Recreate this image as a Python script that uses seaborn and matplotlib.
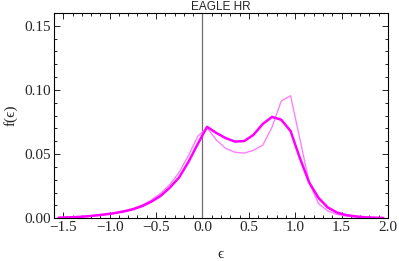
import numpy as np
import pandas as pd
import matplotlib
matplotlib.use("Agg")
import matplotlib.pyplot as plt
import seaborn as sns
from matplotlib.ticker import MultipleLocator

# ── Data ──────────────────────────────────────────────────────────────────────
eps = [-1.55, -1.45, -1.35, -1.25, -1.15, -1.05, -0.95, -0.85, -0.75, -0.65,
       -0.55, -0.45, -0.35, -0.25, -0.15, -0.05, 0.05, 0.15, 0.25, 0.35,
       0.45, 0.55, 0.65, 0.75, 0.85, 0.95, 1.05, 1.15, 1.25, 1.35,
       1.45, 1.55, 1.65, 1.75, 1.85, 1.95]
f_thick = [0.0005, 0.0007, 0.0010, 0.0015, 0.0022, 0.0030, 0.0040, 0.0053, 0.0070, 0.0095,
           0.0130, 0.0175, 0.0240, 0.0320, 0.0440, 0.0580, 0.0713, 0.0665, 0.0625, 0.0598,
           0.0602, 0.0650, 0.0735, 0.0790, 0.0768, 0.0680, 0.0470, 0.0280, 0.0160, 0.0085,
           0.0045, 0.0025, 0.0015, 0.0008, 0.0005, 0.0003]
f_thin = [0.0005, 0.0007, 0.0010, 0.0015, 0.0022, 0.0031, 0.0042, 0.0057, 0.0076, 0.0103,
          0.0142, 0.0195, 0.0265, 0.0360, 0.0490, 0.0640, 0.0705, 0.0610, 0.0545, 0.0515,
          0.0508, 0.0530, 0.0570, 0.0710, 0.0915, 0.0955, 0.0620, 0.0280, 0.0115, 0.0058,
          0.0030, 0.0018, 0.0010, 0.0006, 0.0004, 0.0002]

x_ticks = [-1.5, -1.0, -0.5, 0.0, 0.5, 1.0, 1.5, 2.0]
y_ticks = [0.00, 0.05, 0.10, 0.15]

df = pd.DataFrame({"eps": eps, "thick": f_thick, "thin": f_thin})

# ── Style ─────────────────────────────────────────────────────────────────────
sns.set_style("ticks")
plt.rcParams["font.family"] = ["Liberation Serif", "DejaVu Serif"]
plt.rcParams["xtick.direction"] = "in"
plt.rcParams["ytick.direction"] = "in"

fig = plt.figure(figsize=(3.99, 2.61), dpi=100)
ax = fig.add_axes([0.1353, 0.1636, 0.8371, 0.7866])

ax.axvline(0, color="#707070", lw=0.9, zorder=1)
sns.lineplot(data=df, x="eps", y="thin", ax=ax, color="#FF80FF", lw=1.0, zorder=2)
sns.lineplot(data=df, x="eps", y="thick", ax=ax, color="#FF00FF", lw=1.8, zorder=3)

ax.set_xlim(-1.6, 2.0)
ax.set_ylim(0, 0.16)
ax.set_xticks(x_ticks)
ax.set_xticklabels([f"{t:.1f}".replace("-", "\u2212") for t in x_ticks])
ax.set_yticks(y_ticks)
ax.set_yticklabels([f"{t:.2f}" for t in y_ticks])
ax.xaxis.set_minor_locator(MultipleLocator(0.1))
ax.yaxis.set_minor_locator(MultipleLocator(0.01))
ax.tick_params(which="both", top=True, right=True, labeltop=False, labelright=False,
               labelsize=11, width=0.6, color="black", pad=2)
ax.tick_params(which="major", length=4)
ax.tick_params(which="minor", length=2)
for s in ax.spines.values():
    s.set_linewidth(0.8)
    s.set_color("black")

ax.set_xlabel("\u03f5", fontsize=11, labelpad=10)
ax.set_ylabel("f(\u03f5)", fontsize=11, labelpad=5)
ax.set_title("EAGLE HR", fontsize=8.5, family="Liberation Sans", pad=1)

fig.savefig("out.png", dpi=100)
